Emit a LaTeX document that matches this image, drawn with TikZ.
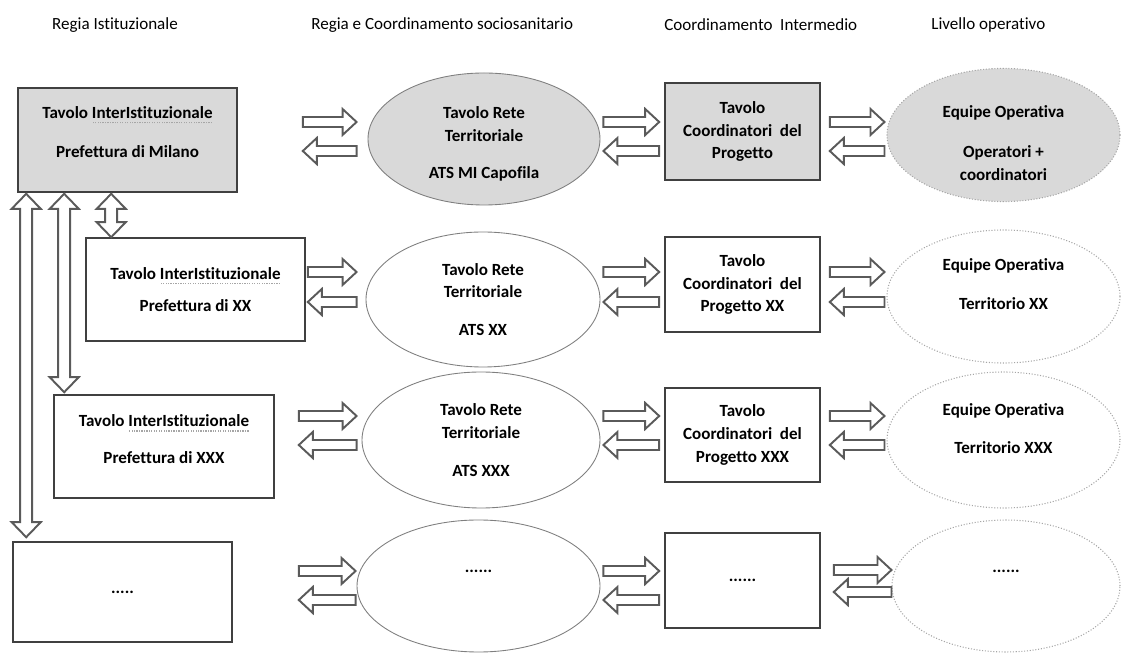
\documentclass[tikz,border=0pt]{standalone}
\usepackage{fontspec}
\setmainfont{Carlito}[Ligatures=NoCommon]
\usetikzlibrary{shapes.geometric,calc}

\definecolor{fillgray}{HTML}{D9D9D9}
\definecolor{boxgray}{HTML}{404040}
\definecolor{elgray}{HTML}{7F7F7F}
\definecolor{dotgray}{HTML}{A6A6A6}
\definecolor{arrgray}{HTML}{5A5A5A}

% block arrow sizes
\newcommand{\arrsw}{0.10cm}
\newcommand{\arrhw}{0.26cm}
\newcommand{\arrhl}{0.28cm}
\newcommand{\varrsw}{0.12cm}
\newcommand{\varrhw}{0.29cm}
\newcommand{\varrhl}{0.30cm}
% spell check squiggle
\newsavebox{\spellbox}
\newcommand{\spellerr}[1]{\sbox\spellbox{#1}\rlap{\raisebox{-2.6pt}{\color{dotgray}\hbox to \wd\spellbox{\xleaders\hbox to 1.4pt{\hss\rule{0.7pt}{0.7pt}\hss}\hfill}}}\usebox\spellbox}
% push text up / down inside a node
\newcommand{\lift}[1]{\rule[-#1]{0pt}{#1}}
\newcommand{\sink}[1]{\rule{0pt}{#1}}

\tikzset{
  txt/.style={font=\fontsize{9.7}{13}\selectfont\bfseries, align=center},
  head/.style={font=\fontsize{9.7}{13}\selectfont, inner sep=0pt},
  tavolo/.style={txt, draw=boxgray, line width=0.9pt, inner sep=2pt},
  rete/.style={txt, ellipse, draw=elgray, line width=0.5pt, inner sep=1pt},
  equipe/.style={txt, ellipse, draw=dotgray, densely dotted, line width=0.6pt, inner sep=1pt},
  harrow/.style={draw=arrgray, fill=white, line width=1.1pt, line join=miter,
    to path={let \p1=(\tikztostart), \p2=(\tikztotarget), \n1={sign(\x2-\x1)} in
      ({\x1},{\y1+\arrsw}) -- ({\x2-(\n1)*\arrhl},{\y1+\arrsw}) -- ({\x2-(\n1)*\arrhl},{\y1+\arrhw})
      -- ({\x2},{\y1}) -- ({\x2-(\n1)*\arrhl},{\y1-\arrhw}) -- ({\x2-(\n1)*\arrhl},{\y1-\arrsw})
      -- ({\x1},{\y1-\arrsw}) -- cycle}},
  vdarrow/.style={draw=arrgray, fill=white, line width=1.1pt, line join=miter,
    to path={let \p1=(\tikztostart), \p2=(\tikztotarget) in
      ({\x1},{\y1}) -- ({\x1+\varrhw},{\y1-\varrhl}) -- ({\x1+\varrsw},{\y1-\varrhl})
      -- ({\x1+\varrsw},{\y2+\varrhl}) -- ({\x1+\varrhw},{\y2+\varrhl}) -- ({\x1},{\y2})
      -- ({\x1-\varrhw},{\y2+\varrhl}) -- ({\x1-\varrsw},{\y2+\varrhl})
      -- ({\x1-\varrsw},{\y1-\varrhl}) -- ({\x1-\varrhw},{\y1-\varrhl}) -- cycle}}
}

\begin{document}
\begin{tikzpicture}

  \useasboundingbox (0,0) rectangle (22.48,-13.06);

  % headers
  \node[head] (hIst) at (2.30,-0.50) {Regia Istituzionale};
  \node[head,anchor=west] (hRete) at (6.22,-0.50) {Regia e Coordinamento sociosanitario};
  \node[head,anchor=west] (hCoord) at (13.28,-0.50) {Coordinamento~ Intermedio};
  \node[head,anchor=west] (hLiv) at (18.62,-0.50) {Livello operativo};

  % row 1: Milano
  \node[tavolo,fill=fillgray,minimum width=4.38cm,minimum height=2.08cm] (istMi) at (2.55,-2.80) {Tavolo \spellerr{InterIstituzionale}\\[9pt]Prefettura di Milano\lift{9pt}};
  \node[rete,fill=fillgray,minimum width=4.64cm,minimum height=2.64cm] (reteMi) at (9.68,-2.78) {\sink{12.5pt}Tavolo Rete\\Territoriale\\[8.5pt]ATS MI Capofila};
  \node[tavolo,fill=fillgray,minimum width=3.10cm,minimum height=1.94cm] (coordMi) at (14.85,-2.63) {Tavolo\\Coordinatori~ del\\Progetto};
  \node[equipe,fill=fillgray,minimum width=4.66cm,minimum height=2.48cm] (equipeMi) at (20.07,-2.70) {\sink{16pt}Equipe Operativa\\[9.5pt]Operatori +\\coordinatori};

  % row 2: XX
  \node[tavolo,minimum width=4.38cm,minimum height=2.06cm] (istXX) at (3.91,-5.79) {Tavolo \spellerr{InterIstituzionale}\\[5pt]Prefettura di XX};
  \node[rete,minimum width=4.68cm,minimum height=2.70cm] (reteXX) at (9.66,-5.99) {Tavolo Rete\\Territoriale\\[8.5pt]ATS XX};
  \node[tavolo,minimum width=3.10cm,minimum height=1.90cm] (coordXX) at (14.85,-5.69) {Tavolo\\Coordinatori~ del\\Progetto XX};
  \node[equipe,minimum width=4.66cm,minimum height=2.66cm] (equipeXX) at (20.07,-5.93) {Equipe Operativa\\[9.5pt]Territorio XX\lift{14pt}};

  % row 3: XXX
  \node[tavolo,minimum width=4.40cm,minimum height=2.06cm] (istXXX) at (3.28,-8.93) {Tavolo \spellerr{InterIstituzionale}\\[8pt]Prefettura di XXX\lift{8pt}};
  \node[rete,minimum width=4.76cm,minimum height=2.72cm] (reteXXX) at (9.62,-8.80) {Tavolo Rete\\Territoriale\\[8.5pt]ATS XXX};
  \node[tavolo,minimum width=3.10cm,minimum height=1.88cm] (coordXXX) at (14.85,-8.70) {Tavolo\\Coordinatori~ del\\Progetto XXX};
  \node[equipe,minimum width=4.66cm,minimum height=2.72cm] (equipeXXX) at (20.07,-8.80) {Equipe Operativa\\[8.5pt]Territorio XXX\lift{13pt}};

  % row 4: ...
  \node[tavolo,minimum width=4.38cm,minimum height=2.00cm] (istDots) at (2.45,-11.84) {.....};
  \node[rete,minimum width=4.86cm,minimum height=2.64cm] (reteDots) at (9.57,-11.72) {......\\[0pt]\strut};
  \node[tavolo,minimum width=3.10cm,minimum height=1.90cm] (coordDots) at (14.85,-11.61) {......};
  \node[equipe,minimum width=4.56cm,minimum height=2.64cm] (equipeDots) at (20.12,-11.72) {......\\[0pt]\strut};

  % arrows row 1
  \draw[harrow] ([shift={(1.30,0.36)}]istMi.east) to ([xshift=-0.22cm]reteMi.west);
  \draw[harrow] ([shift={(-0.22,-0.24)}]reteMi.west) to ([xshift=1.30cm]istMi.east);
  \draw[harrow] ([shift={(0.06,0.34)}]reteMi.east) to ([xshift=-0.10cm]coordMi.west);
  \draw[harrow] ([shift={(-0.10,-0.39)}]coordMi.west) to ([xshift=0.06cm]reteMi.east);
  \draw[harrow] ([shift={(0.18,0.19)}]coordMi.east) to ([xshift=-0.04cm]equipeMi.west);
  \draw[harrow] ([shift={(-0.04,-0.32)}]equipeMi.west) to ([xshift=0.18cm]coordMi.east);

  % arrows row 2
  \draw[harrow] ([shift={(0.04,0.35)}]istXX.east) to ([xshift=-0.18cm]reteXX.west);
  \draw[harrow] ([shift={(-0.18,-0.05)}]reteXX.west) to ([xshift=0.04cm]istXX.east);
  \draw[harrow] ([shift={(0.06,0.55)}]reteXX.east) to ([xshift=-0.10cm]coordXX.west);
  \draw[harrow] ([shift={(-0.10,-0.35)}]coordXX.west) to ([xshift=0.06cm]reteXX.east);
  \draw[harrow] ([shift={(0.18,0.25)}]coordXX.east) to ([xshift=-0.04cm]equipeXX.west);
  \draw[harrow] ([shift={(-0.04,-0.11)}]equipeXX.west) to ([xshift=0.18cm]coordXX.east);

  % arrows row 3
  \draw[harrow] ([shift={(0.48,0.61)}]istXXX.east) to ([xshift=-0.10cm]reteXXX.west);
  \draw[harrow] ([shift={(-0.10,-0.10)}]reteXXX.west) to ([xshift=0.48cm]istXXX.east);
  \draw[harrow] ([shift={(0.06,0.48)}]reteXXX.east) to ([xshift=-0.10cm]coordXXX.west);
  \draw[harrow] ([shift={(-0.10,-0.20)}]coordXXX.west) to ([xshift=0.06cm]reteXXX.east);
  \draw[harrow] ([shift={(0.18,0.38)}]coordXXX.east) to ([xshift=-0.04cm]equipeXXX.west);
  \draw[harrow] ([shift={(-0.04,-0.10)}]equipeXXX.west) to ([xshift=0.18cm]coordXXX.east);

  % arrows row 4
  \draw[harrow] ([shift={(1.32,0.42)}]istDots.east) to ([xshift=-0.02cm]reteDots.west);
  \draw[harrow] ([shift={(-0.02,-0.28)}]reteDots.west) to ([xshift=1.32cm]istDots.east);
  \draw[harrow] ([shift={(0.06,0.30)}]reteDots.east) to ([xshift=-0.10cm]coordDots.west);
  \draw[harrow] ([shift={(-0.10,-0.39)}]coordDots.west) to ([xshift=0.06cm]reteDots.east);
  \draw[harrow] ([shift={(0.26,0.21)}]coordDots.east) to (equipeDots.west);
  \draw[harrow] ([yshift=-0.12cm]equipeDots.west) to ([xshift=0.26cm]coordDots.east);

  % vertical links from Milano
  \draw[vdarrow] ([shift={(0.18,-0.02)}]istMi.south west) to ([yshift=0.08cm]istDots.north);
  \draw[vdarrow] ([shift={(0.94,-0.02)}]istMi.south west) to ([yshift=0.04cm]istXXX.north);
  \draw[vdarrow] ([shift={(1.88,-0.02)}]istMi.south west) to (istXX.north);

\end{tikzpicture}
\end{document}
